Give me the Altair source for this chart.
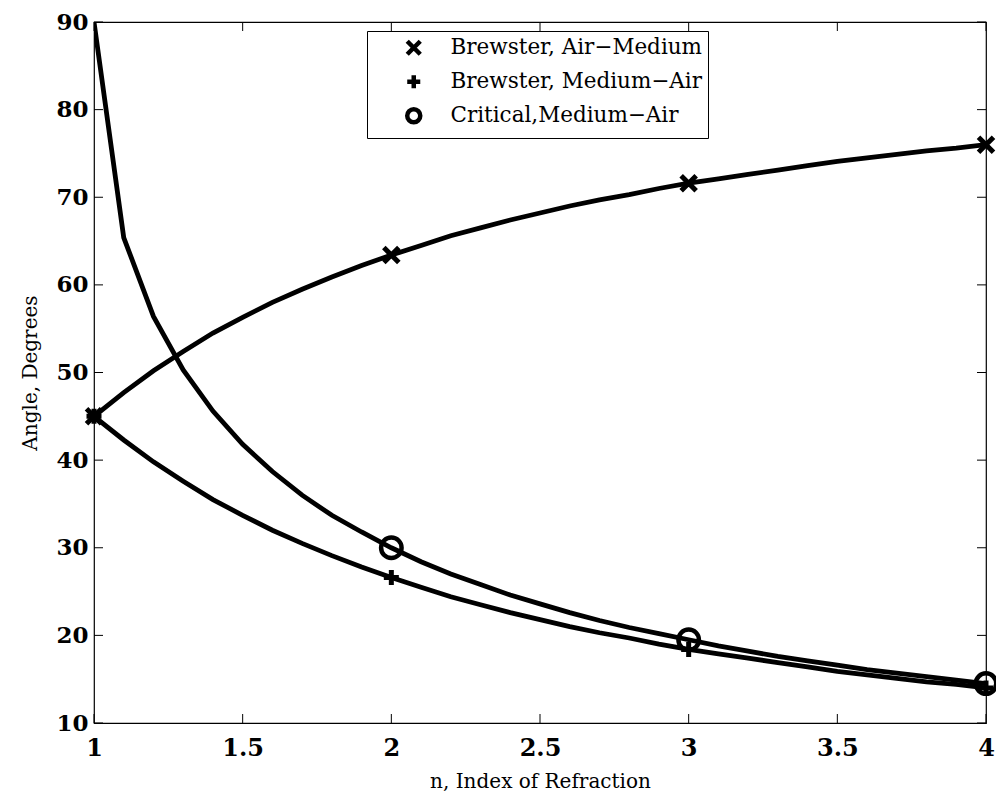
import altair as alt
import pandas as pd

# refractive index samples
n_values = [1.0, 1.1, 1.2, 1.3, 1.4, 1.5, 1.6, 1.7, 1.8, 1.9,
            2.0, 2.1, 2.2, 2.3, 2.4, 2.5, 2.6, 2.7, 2.8, 2.9,
            3.0, 3.1, 3.2, 3.3, 3.4, 3.5, 3.6, 3.7, 3.8, 3.9, 4.0]

brewster_air_medium = [45.0, 47.7, 50.2, 52.4, 54.5, 56.3, 58.0, 59.5, 60.9, 62.2,
                       63.4, 64.5, 65.6, 66.5, 67.4, 68.2, 69.0, 69.7, 70.3, 71.0,
                       71.6, 72.1, 72.6, 73.1, 73.6, 74.1, 74.5, 74.9, 75.3, 75.6, 76.0]

brewster_medium_air = [45.0, 42.3, 39.8, 37.6, 35.5, 33.7, 32.0, 30.5, 29.1, 27.8,
                       26.6, 25.5, 24.4, 23.5, 22.6, 21.8, 21.0, 20.3, 19.7, 19.0,
                       18.4, 17.9, 17.4, 16.9, 16.4, 15.9, 15.5, 15.1, 14.7, 14.4, 14.0]

critical_medium_air = [90.0, 65.4, 56.4, 50.3, 45.6, 41.8, 38.7, 36.0, 33.7, 31.8,
                       30.0, 28.4, 27.0, 25.8, 24.6, 23.6, 22.6, 21.7, 20.9, 20.2,
                       19.5, 18.8, 18.2, 17.6, 17.1, 16.6, 16.1, 15.7, 15.3, 14.9, 14.5]

series_names = ["Brewster, Air\u2212Medium", "Brewster, Medium\u2212Air", "Critical,Medium\u2212Air"]

# n values carrying a marker, per series
marker_n = {
    series_names[0]: [1.0, 2.0, 3.0, 4.0],
    series_names[1]: [1.0, 2.0, 3.0, 4.0],
    series_names[2]: [2.0, 3.0, 4.0],
}

x_ticks = [1, 1.5, 2, 2.5, 3, 3.5, 4]
y_ticks = [10, 20, 30, 40, 50, 60, 70, 80, 90]

W, H = 892, 701
TICK = 9

rows = []
for name, vals in zip(series_names, [brewster_air_medium, brewster_medium_air, critical_medium_air]):
    for n, v in zip(n_values, vals):
        rows.append({"series": name, "n": n, "angle": v, "marker": n in marker_n[name]})
df = pd.DataFrame(rows)
pts = df[df["marker"]]
pts_cross = pts[pts["series"] != series_names[2]]
pts_circ = pts[pts["series"] == series_names[2]]

xscale = alt.Scale(domain=[1, 4], nice=False, zero=False)
yscale = alt.Scale(domain=[10, 90], nice=False, zero=False)

xaxis = alt.Axis(values=x_ticks, format="~g", ticks=False, domain=False, grid=False,
                 labelFont="DejaVu Serif", labelFontWeight="bold", labelFontSize=24,
                 labelColor="black", labelPadding=13, labelFlush=False,
                 title="n, Index of Refraction", titleFont="DejaVu Serif",
                 titleFontWeight="normal", titleFontSize=20, titleColor="black",
                 titleBaseline="alphabetic", titleY=64)
yaxis = alt.Axis(values=y_ticks, ticks=False, domain=False, grid=False,
                 labelFont="DejaVu Serif", labelFontWeight="bold", labelFontSize=23,
                 labelColor="black", labelPadding=6, labelFlush=False,
                 title="Angle, Degrees", titleFont="DejaVu Serif",
                 titleFontWeight="normal", titleFontSize=20, titleColor="black",
                 titleBaseline="alphabetic", titleX=-58)

lines = alt.Chart(df).mark_line(color="black", strokeWidth=4.8, clip=True).encode(
    x=alt.X("n:Q", scale=xscale, axis=xaxis),
    y=alt.Y("angle:Q", scale=yscale, axis=yaxis),
    detail="series:N",
)

x_path = "M-1,-1L1,1M-1,1L1,-1"
plus_path = "M-1,0L1,0M0,-1L0,1"

shape_enc = alt.Shape(
    "series:N",
    scale=alt.Scale(domain=series_names, range=[x_path, plus_path, "circle"]),
    legend=alt.Legend(title=None, orient="none", legendX=273, legendY=9),
)

points_cross = alt.Chart(pts_cross).mark_point(
    filled=False, color="black", strokeWidth=5, opacity=1, size=225).encode(
    x=alt.X("n:Q", scale=xscale),
    y=alt.Y("angle:Q", scale=yscale),
    shape=shape_enc,
)
points_circ = alt.Chart(pts_circ).mark_point(
    filled=False, color="black", strokeWidth=4.5, opacity=1, size=420).encode(
    x=alt.X("n:Q", scale=xscale),
    y=alt.Y("angle:Q", scale=yscale),
    shape=shape_enc,
)

xt = pd.DataFrame({"t": x_ticks})
yt = pd.DataFrame({"t": y_ticks})

tick_bottom = alt.Chart(xt).mark_rule(color="black", strokeWidth=1).encode(
    x=alt.X("t:Q", scale=xscale), y=alt.value(H), y2=alt.value(H - TICK))
tick_top = alt.Chart(xt).mark_rule(color="black", strokeWidth=1).encode(
    x=alt.X("t:Q", scale=xscale), y=alt.value(0), y2=alt.value(TICK))
tick_left = alt.Chart(yt).mark_rule(color="black", strokeWidth=1).encode(
    y=alt.Y("t:Q", scale=yscale), x=alt.value(0), x2=alt.value(TICK))
tick_right = alt.Chart(yt).mark_rule(color="black", strokeWidth=1).encode(
    y=alt.Y("t:Q", scale=yscale), x=alt.value(W), x2=alt.value(W - TICK))

chart = alt.layer(lines, points_cross, points_circ,
                  tick_bottom, tick_top, tick_left, tick_right).properties(
    width=W, height=H,
    autosize=alt.AutoSizeParams(type="none"),
    padding={"left": 86, "top": 14, "right": 10, "bottom": 70},
    background="white",
).configure_view(
    stroke="black", strokeWidth=1.2
).configure_legend(
    labelFont="DejaVu Serif", labelFontSize=21.5, labelColor="black", labelLimit=500,
    strokeColor="black", fillColor="white",
    padding=6, symbolOffset=30, labelOffset=26, rowPadding=2, symbolSize=170,
    symbolStrokeWidth=4.5, symbolStrokeColor="black",
)

chart.save("out.html", embed_options={"renderer": "svg", "actions": False})
